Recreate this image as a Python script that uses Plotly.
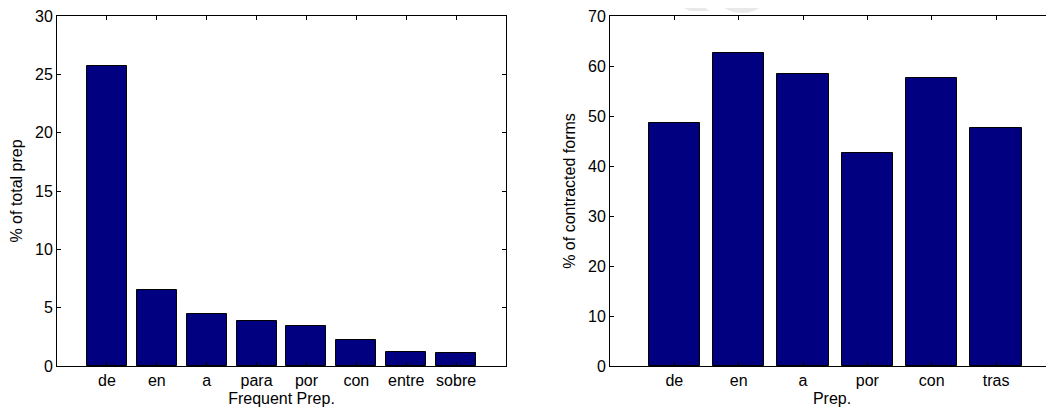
import plotly.graph_objects as go

# Left panel data
left_categories = ["de", "en", "a", "para", "por", "con", "entre", "sobre"]
left_values = [25.7, 6.55, 4.5, 3.88, 3.4, 2.2, 1.17, 1.15]

# Right panel data
right_categories = ["de", "en", "a", "por", "con", "tras"]
right_values = [48.7, 62.7, 58.4, 42.7, 57.6, 47.7]

left_x = list(range(1, len(left_categories) + 1))
right_x = list(range(1, len(right_categories) + 1))

FONT = "Liberation Sans, Arial, Helvetica, sans-serif"
BAR = "#000080"

# The page body has an 8px margin, so the figure is drawn 8px in from the window edge.
W, H = 1046, 400
OFF = 8

def px(x):
    return (x - OFF) / W

def py(y):
    return 1 - (y - OFF) / H

def xd(a, b):
    return [px(a), min(1.0, px(b))]

def yd(top, bottom):
    return [py(bottom), py(top)]

fig = go.Figure()
fig.add_trace(go.Bar(x=left_x, y=left_values, width=0.8, xaxis="x", yaxis="y",
                     marker=dict(color=BAR, line=dict(color="black", width=1)),
                     showlegend=False))
fig.add_trace(go.Bar(x=right_x, y=right_values, width=0.8, xaxis="x2", yaxis="y2",
                     marker=dict(color=BAR, line=dict(color="black", width=1)),
                     showlegend=False))

tickfont = dict(family=FONT, size=16, color="black")
titlefont = dict(family=FONT, size=16, color="black")

common_x = dict(showgrid=False, zeroline=False, showline=True, linecolor="black",
                linewidth=1, ticks="inside", ticklen=4, tickcolor="black",
                tickfont=tickfont, mirror="ticks", automargin=False,
                ticklabeloverflow="allow")

common_y = dict(showgrid=False, zeroline=False, showline=True, linecolor="black",
                linewidth=1, ticks="inside", ticklen=4, tickcolor="black",
                tickfont=tickfont, automargin=False, ticklabeloverflow="allow")

# faint watermark remnant at the top edge of the source image
WM = "#e9e9e9"
stripe = [(668, 0), (697, 0), (709, 11), (690, 11)]
stripe_path = "M " + " L ".join(f"{px(x):.5f},{py(y):.5f}" for x, y in stripe) + " Z"
shapes = [
    dict(type="path", xref="paper", yref="paper", path=stripe_path,
         fillcolor=WM, line=dict(width=0), layer="below"),
    dict(type="circle", xref="paper", yref="paper",
         x0=px(742 - 33), x1=px(742 + 33), y0=py(-20 + 33), y1=py(-20 - 33),
         fillcolor=WM, line=dict(width=0), layer="below"),
    dict(type="circle", xref="paper", yref="paper",
         x0=px(742 - 22), x1=px(742 + 22), y0=py(-20 + 22), y1=py(-20 - 22),
         fillcolor="white", line=dict(width=0), layer="below"),
]

fig.update_layout(
    width=W, height=H,
    margin=dict(l=0, r=0, t=0, b=0, autoexpand=False),
    paper_bgcolor="white", plot_bgcolor="rgba(0,0,0,0)",
    font=dict(family=FONT, color="black"),
    bargap=0,
    shapes=shapes,
    xaxis=dict(domain=xd(57, 506), range=[0, 9],
               tickmode="array", tickvals=left_x, ticktext=left_categories,
               title=dict(text="Frequent Prep.", font=titlefont, standoff=4),
               anchor="y", **common_x),
    yaxis=dict(domain=yd(16, 366), range=[0, 30], dtick=5,
               mirror="ticks", anchor="x",
               title=dict(text="% of total prep", font=titlefont, standoff=8),
               **common_y),
    xaxis2=dict(domain=xd(610, 1054), range=[0, 6.9],
                tickmode="array", tickvals=right_x, ticktext=right_categories,
                title=dict(text="Prep.", font=titlefont, standoff=4),
                anchor="y2", **common_x),
    yaxis2=dict(domain=yd(16, 366), range=[0, 70], dtick=10,
                mirror=False, anchor="x2",
                title=dict(text="% of contracted forms", font=titlefont, standoff=8),
                **common_y),
)

fig.write_html("out.html")
